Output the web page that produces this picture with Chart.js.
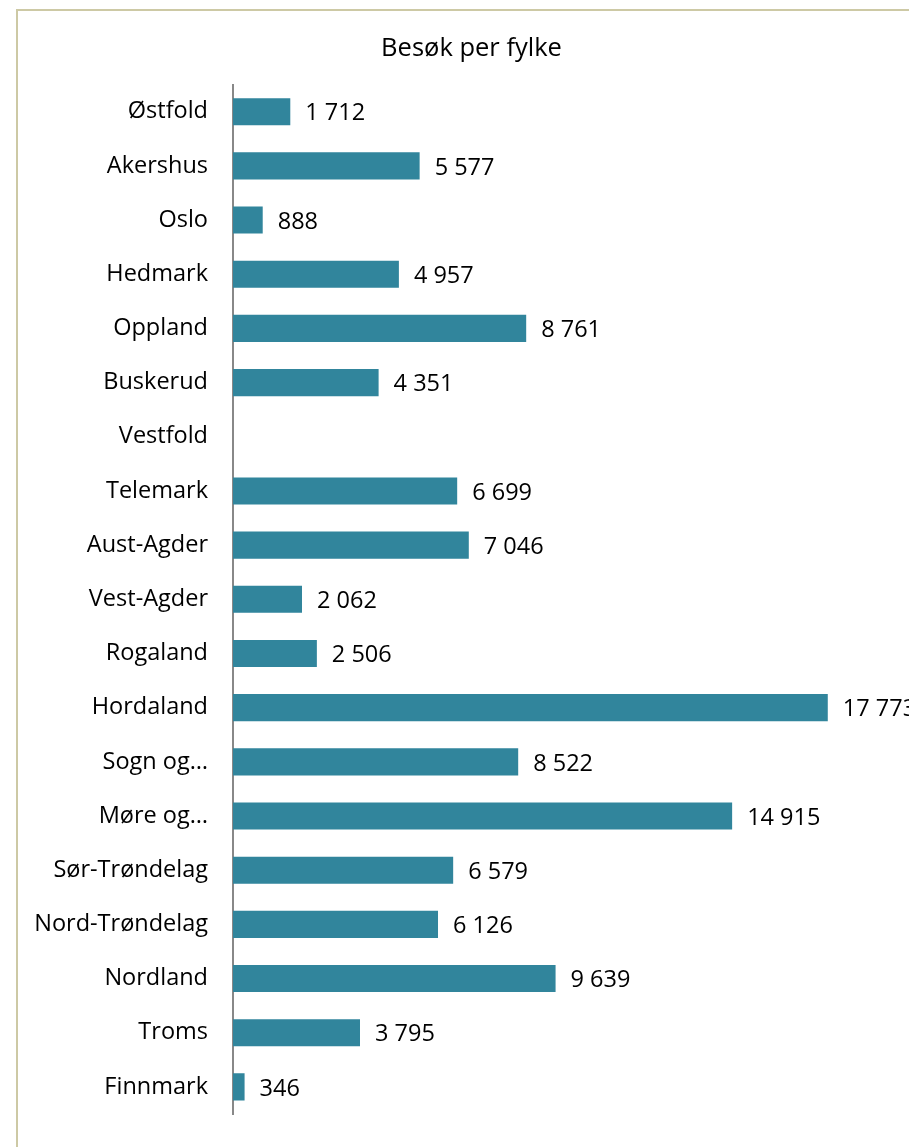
<!DOCTYPE html>
<html>
<head>
<meta charset="utf-8">
<script src="https://cdn.jsdelivr.net/npm/chart.js@4/dist/chart.umd.min.js"></script>
<style>
  html, body { margin: 0; padding: 0; overflow: hidden; background: #fff; width: 909px; height: 1147px; }
  #frame { position: absolute; left: 16px; top: 9px; width: 1000px; height: 1200px;
           border-left: 2px solid #cdc9a5; border-top: 2px solid #cdc9a5; }
  #chart { position: absolute; left: 17px; top: 10px; }
</style>
</head>
<body>
<div id="frame"></div>
<canvas id="chart" width="908" height="1160"></canvas>
<script>
// fylker og antall besøk
var fylker = ['Østfold', 'Akershus', 'Oslo', 'Hedmark', 'Oppland', 'Buskerud', 'Vestfold',
  'Telemark', 'Aust-Agder', 'Vest-Agder', 'Rogaland', 'Hordaland', 'Sogn og…', 'Møre og…',
  'Sør-Trøndelag', 'Nord-Trøndelag', 'Nordland', 'Troms', 'Finnmark'];
var besok = [1712, 5577, 888, 4957, 8761, 4351, null, 6699, 7046, 2062, 2506, 17773,
  8522, 14915, 6579, 6126, 9639, 3795, 346];
var xMax = 20200;

var fontFam = '"Open Sans", sans-serif';

function fmt(v) {
  return String(v).replace(/\B(?=(\d{3})+(?!\d))/g, ' ');
}

// skriver verdien til høyre for hver stolpe
var valueLabels = {
  id: 'valueLabels',
  afterDatasetsDraw: function(chart) {
    var ctx = chart.ctx;
    var meta = chart.getDatasetMeta(0);
    ctx.save();
    ctx.font = '23.5px ' + fontFam;
    ctx.fillStyle = '#000';
    ctx.textAlign = 'left';
    ctx.textBaseline = 'middle';
    meta.data.forEach(function(bar, i) {
      var v = besok[i];
      if (v == null) return;
      ctx.fillText(fmt(v), bar.x + 15, bar.y + 2);
    });
    ctx.restore();
  }
};

new Chart(document.getElementById('chart'), {
  type: 'bar',
  data: {
    labels: fylker,
    datasets: [{
      data: besok,
      backgroundColor: '#31859c',
      borderWidth: 0,
      barPercentage: 0.5,
      categoryPercentage: 1
    }]
  },
  options: {
    indexAxis: 'y',
    responsive: false,
    animation: false,
    layout: { padding: { left: 17, right: 16, top: 0, bottom: 56 } },
    plugins: {
      legend: { display: false },
      tooltip: { enabled: false },
      title: {
        display: true,
        text: 'Besøk per fylke',
        color: '#000',
        font: { family: fontFam, size: 25.5, weight: 'normal' },
        padding: { top: 23, bottom: 21 }
      }
    },
    scales: {
      x: {
        display: false,
        min: 0,
        max: xMax
      },
      y: {
        afterFit: function(scale) { scale.width = 199; },
        grid: { display: false, drawTicks: false },
        border: { display: true, color: '#888', width: 2 },
        ticks: {
          color: '#000',
          padding: 25,
          font: { family: fontFam, size: 23.5 }
        }
      }
    }
  },
  plugins: [valueLabels]
});
</script>
</body>
</html>
